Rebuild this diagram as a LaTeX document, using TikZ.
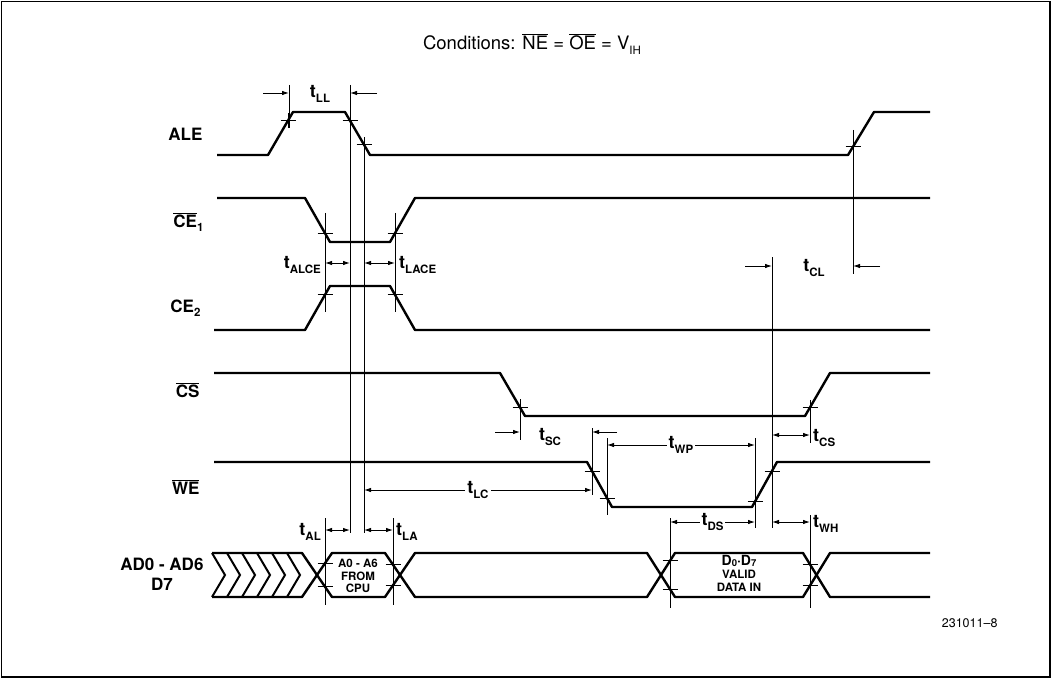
\documentclass[tikz,border=0pt]{standalone}
\usepackage{fontspec}
\setmainfont{TeX Gyre Heros}
\usetikzlibrary{arrows.meta}

\newcommand{\ovl}[1]{$\overline{\hbox{#1}}$}
\newcommand{\lo}[1]{\raisebox{-0.5ex}{\fontsize{11.5}{11.5}\selectfont #1}}
\newcommand{\tm}[1]{t\lo{#1}}

\begin{document}
\begin{tikzpicture}[x=1pt, y=-1pt,
    sig/.style={line width=2.4pt, line join=round},
    guide/.style={line width=0.9pt},
    dim/.style={line width=0.9pt, {Latex[length=7pt,width=4.5pt]}-{Latex[length=7pt,width=4.5pt]}},
    dimr/.style={line width=0.9pt, -{Latex[length=7pt,width=4.5pt]}},
    lab/.style={font=\fontsize{17}{20}\selectfont\bfseries},
    tlab/.style={font=\fontsize{18}{20}\selectfont\bfseries, inner sep=2pt},
    bus/.style={font=\fontsize{11.5}{12.5}\selectfont\bfseries, align=center, inner sep=0pt},
    xing/.pic={\draw[guide] (-7.5,0) -- (7.5,0) (0,-7.5) -- (0,7.5);}]
    \useasboundingbox (0,0) rectangle (1052,679);
    \draw[line width=1.2pt] (1.5,1.5) rectangle (1050,677);

    % title
    \node[font=\fontsize{18.5}{20}\selectfont] (cond) at (532,44) {Conditions: \ovl{NE} = \ovl{OE} = V\lo{IH}};

    % signal names
    \node[lab, anchor=east] (ale) at (206,134) {ALE};
    \node[lab, anchor=east] (ceone) at (207,222) {\ovl{CE}\lo{1}};
    \node[lab, anchor=east] (cetwo) at (204,308) {CE\lo{2}};
    \node[lab, anchor=east] (cs) at (203,390) {\ovl{CS}};
    \node[lab, anchor=east] (we) at (203,487) {\ovl{WE}};
    \node[lab, anchor=east, align=center] (ad) at (207,574) {AD0 - AD6\\D7};

    % waveforms
    \draw[sig] (217,155) -- (268,155) -- (293,112) -- (345,112) -- (370,155) -- (848,155) -- (874,112) -- (930,112);
    \draw[sig] (217,198) -- (305,198) -- (330,242) -- (390,242) -- (415,198) -- (930,198);
    \draw[sig] (214,330) -- (305,330) -- (330,286) -- (390,286) -- (415,330) -- (930,330);
    \draw[sig] (214,373) -- (500,373) -- (525,416) -- (805,416) -- (830,373) -- (930,373);
    \draw[sig] (214,462) -- (587,462) -- (612,507) -- (752,507) -- (777,462) -- (930,462);

    % bus
    \draw[sig] (212,553) -- (302,553) -- (332,597) -- (385,597) -- (415,553) -- (647,553) -- (675,597) -- (803,597) -- (830,553) -- (930,553);
    \draw[sig] (212,597) -- (302,597) -- (332,553) -- (385,553) -- (415,597) -- (647,597) -- (675,553) -- (803,553) -- (830,597) -- (930,597);
    \foreach \cx in {212,227,242,257,272,287}
        \draw[line width=2pt] (\cx,553) -- (\cx+13,575) -- (\cx,597);
    \node[bus] (addr) at (358,576) {A0 - A6\\FROM\\CPU};
    \node[bus] (data) at (739,573) {{\fontsize{14}{13}\selectfont D\raisebox{-0.25ex}{\fontsize{9.5}{9.5}\selectfont 0}·D\raisebox{-0.25ex}{\fontsize{9.5}{9.5}\selectfont 7}}\\[1pt]VALID\\DATA IN};

    % crossing marks
    \foreach \px/\py in {288/120.6, 350/120.6, 364/144.7, 853/146.7,
        325/233.2, 395/233.2, 325/294.8, 395/294.8,
        520/407.4, 810/407.4, 592/471, 607/498, 755/501.6, 772/471,
        325/563.3, 325/586.7, 393/564.7, 393/585.3,
        670/560.9, 670/589.1, 810/564.4, 810/585.6}
        \pic at (\px,\py) {xing};

    % guide lines
    \draw[guide] (289,85) -- (289,128);
    \draw[guide] (350,85) -- (350,533);
    \draw[guide] (364,138) -- (364,533);
    \draw[guide] (853,130) -- (853,274);
    \draw[guide] (325,213) -- (325,312);
    \draw[guide] (395,213) -- (395,312);
    \draw[guide] (325,518) -- (325,605);
    \draw[guide] (393,518) -- (393,605);
    \draw[guide] (520,399) -- (520,440);
    \draw[guide] (592,428) -- (592,495);
    \draw[guide] (607,438) -- (607,515);
    \draw[guide] (755,438) -- (755,528);
    \draw[guide] (670,518) -- (670,608);
    \draw[guide] (772,257) -- (772,528);
    \draw[guide] (810,400) -- (810,443);
    \draw[guide] (810,515) -- (810,608);

    % timing parameters
    \draw[dimr] (263,93) -- (289,93);
    \draw[dimr] (377,93) -- (350,93);
    \node[tlab] (tll) at (320,94) {\tm{LL}};
    \draw[dim] (325,263) -- (350,263);
    \node[tlab, anchor=east] (talce) at (323,265) {\tm{ALCE}};
    \draw[dim] (364,263) -- (395,263);
    \node[tlab, anchor=west] (tlace) at (397,265) {\tm{LACE}};
    \draw[dimr] (745,266) -- (772,266);
    \draw[dimr] (880,266) -- (853,266);
    \node[tlab] (tcl) at (814,268) {\tm{CL}};
    \draw[dimr] (495,432) -- (520,432);
    \draw[dimr] (617,432) -- (592,432);
    \node[tlab] (tsc) at (550,437) {\tm{SC}};
    \draw[dim] (607,445) -- node[tlab, fill=white] (twp) {\tm{WP}} (755,445);
    \draw[dim] (364,490) -- node[tlab, fill=white] (tlc) {\tm{LC}} (592,490);
    \draw[dim] (772,435) -- (810,435);
    \node[tlab, anchor=west] (tcs) at (811,438) {\tm{CS}};
    \draw[dim] (670,522) -- node[tlab, fill=white] (tds) {\tm{DS}} (755,522);
    \draw[dim] (772,522) -- (810,522);
    \node[tlab, anchor=west] (twh) at (811,524) {\tm{WH}};
    \draw[dim] (325,530) -- (350,530);
    \node[tlab, anchor=east] (tal) at (323,532) {\tm{AL}};
    \draw[dim] (364,530) -- (393,530);
    \node[tlab, anchor=west] (tla) at (394,532) {\tm{LA}};

    \node[font=\fontsize{12.5}{14}\selectfont, anchor=east] (fig) at (1001,623) {231011–8};
\end{tikzpicture}
\end{document}
